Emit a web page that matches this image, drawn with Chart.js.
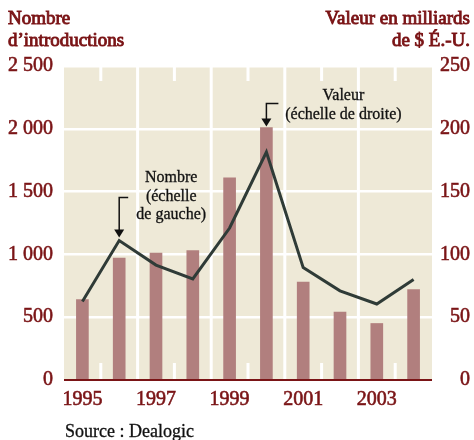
<!DOCTYPE html>
<html>
<head>
<meta charset="utf-8">
<script src="https://cdn.jsdelivr.net/npm/chart.js@4.4.1/dist/chart.umd.min.js"></script>
<style>
  html, body { margin: 0; padding: 0; background: #fff; }
</style>
</head>
<body>
<canvas id="ipo-chart" width="474" height="440"></canvas>
<script>
const years = ['1995', '1996', '1997', '1998', '1999', '2000', '2001', '2002', '2003', '2004'];
const valeur = [64, 97, 101, 103, 161, 201, 78, 54, 45, 72];           // milliards $ (droite)
const nombre = [625, 1110, 915, 805, 1210, 1815, 895, 710, 605, 800];  // introductions (gauche)
const leftTicks = [0, 500, 1000, 1500, 2000, 2500];
const rightTicks = [0, 50, 100, 150, 200, 250];

const darkRed = '#7a1416';
const beige = '#eee9d7';
const serif = '"Liberation Serif", "DejaVu Serif", serif';

function frNumber(v) {
  return String(v).replace(/\B(?=(\d{3})+(?!\d))/g, ' ');
}

// text a little heavier than regular, lighter than bold
function heavyText(ctx, txt, x, y, w) {
  ctx.lineWidth = w;
  ctx.strokeStyle = ctx.fillStyle;
  ctx.strokeText(txt, x, y);
  ctx.fillText(txt, x, y);
}

function arrow(ctx, x, yStart, yTip, hookDx) {
  ctx.save();
  ctx.strokeStyle = '#111';
  ctx.fillStyle = '#111';
  ctx.lineWidth = 1.5;
  ctx.beginPath();
  ctx.moveTo(x + hookDx, yStart);
  ctx.lineTo(x, yStart);
  ctx.lineTo(x, yTip - 6);
  ctx.stroke();
  ctx.beginPath();
  ctx.moveTo(x - 5, yTip - 8);
  ctx.lineTo(x + 5, yTip - 8);
  ctx.lineTo(x, yTip);
  ctx.closePath();
  ctx.fill();
  ctx.restore();
}

const decor = {
  id: 'decor',
  beforeDraw(chart) {
    const { ctx, chartArea: a } = chart;
    ctx.save();
    ctx.fillStyle = beige;
    ctx.fillRect(a.left, a.top, a.right - a.left, a.bottom - a.top);
    ctx.restore();
  },
  beforeDatasetsDraw(chart) {
    const { ctx, chartArea: a, scales } = chart;
    const x = scales.x;
    ctx.save();
    ctx.strokeStyle = '#fff';
    ctx.lineWidth = 3;
    for (let i = 0; i < years.length - 1; i++) {
      const px = (x.getPixelForValue(i) + x.getPixelForValue(i + 1)) / 2;
      ctx.beginPath();
      if (i % 2 === 1) {
        ctx.moveTo(px, a.top);
        ctx.lineTo(px, a.bottom);
      } else {
        ctx.moveTo(px, a.top);
        ctx.lineTo(px, a.top + 15);
        ctx.moveTo(px, a.bottom - 17);
        ctx.lineTo(px, a.bottom);
      }
      ctx.stroke();
    }
    ctx.restore();
  },
  afterDatasetsDraw(chart) {
    const { ctx, chartArea: a, scales } = chart;
    ctx.save();
    ctx.strokeStyle = darkRed;
    ctx.lineWidth = 2;
    ctx.beginPath();
    ctx.moveTo(a.left, a.bottom);
    ctx.lineTo(a.right, a.bottom);
    ctx.stroke();

    // annotations
    ctx.fillStyle = '#111';
    ctx.font = '16px ' + serif;
    ctx.textAlign = 'center';
    ctx.textBaseline = 'middle';

    const nx = scales.x.getPixelForValue(1);
    const ny = scales.yLeft.getPixelForValue(nombre[1]);
    arrow(ctx, nx, ny - 43, ny - 3, 9);
    heavyText(ctx, 'Nombre', nx + 52, ny - 63, 0.3);
    heavyText(ctx, '(échelle', nx + 52, ny - 44, 0.3);
    heavyText(ctx, 'de gauche)', nx + 52, ny - 26, 0.3);

    const vx = scales.x.getPixelForValue(5);
    const vy = scales.yRight.getPixelForValue(valeur[5]);
    arrow(ctx, vx, vy - 24, vy - 1, 12);
    heavyText(ctx, 'Valeur', vx + 77, vy - 32, 0.3);
    heavyText(ctx, '(échelle de droite)', vx + 77, vy - 13, 0.3);
    ctx.restore();
  },
  afterDraw(chart) {
    const { ctx } = chart;
    ctx.save();
    ctx.fillStyle = darkRed;
    ctx.font = '19px ' + serif;
    ctx.textBaseline = 'middle';
    ctx.textAlign = 'left';
    heavyText(ctx, 'Nombre', 8, 19, 0.9);
    heavyText(ctx, 'd\u2019introductions', 8, 41, 0.9);
    ctx.textAlign = 'right';
    heavyText(ctx, 'Valeur en milliards', 470, 19, 0.9);
    heavyText(ctx, 'de $ É.-U.', 470, 41, 0.9);
    ctx.fillStyle = '#111';
    ctx.font = '18px ' + serif;
    ctx.textAlign = 'left';
    heavyText(ctx, 'Source : Dealogic', 65, 432, 0.3);
    ctx.restore();
  }
};

const tickFont = { family: serif, size: 20 };

const ctx = document.getElementById('ipo-chart').getContext('2d');
const ipoChart = new Chart(ctx, {
  type: 'bar',
  data: {
    labels: years,
    datasets: [{
      type: 'line',
      label: 'Nombre',
      data: nombre,
      yAxisID: 'yLeft',
      borderColor: '#2f3b37',
      borderWidth: 3,
      pointRadius: 0,
      tension: 0,
      order: 1
    }, {
      type: 'bar',
      label: 'Valeur',
      data: valeur,
      yAxisID: 'yRight',
      backgroundColor: '#b17f7e',
      barThickness: 12,
      order: 2
    }]
  },
  options: {
    responsive: false,
    animation: false,
    layout: { padding: { top: 66, right: 4, left: 0, bottom: 30 } },
    plugins: {
      legend: { display: false },
      tooltip: { enabled: false }
    },
    scales: {
      x: {
        grid: { display: false, drawTicks: false },
        border: { display: false },
        ticks: {
          autoSkip: false,
          maxRotation: 0,
          padding: 8,
          color: darkRed,
          textStrokeColor: darkRed,
          textStrokeWidth: 0.6,
          font: tickFont,
          callback: function(value, index) {
            return index % 2 === 0 ? years[index] : '';
          }
        },
        afterFit: function(scale) { scale.height = 30; }
      },
      yLeft: {
        position: 'left',
        min: 0,
        max: 2500,
        afterBuildTicks: function(scale) {
          scale.ticks = leftTicks.map(v => ({ value: v }));
        },
        grid: { color: '#fff', lineWidth: 2.5, drawTicks: false },
        border: { display: false },
        ticks: {
          padding: 11,
          color: darkRed,
          textStrokeColor: darkRed,
          textStrokeWidth: 0.6,
          font: tickFont,
          callback: function(value) { return frNumber(value); }
        },
        afterFit: function(scale) { scale.width = 64; }
      },
      yRight: {
        position: 'right',
        min: 0,
        max: 250,
        afterBuildTicks: function(scale) {
          scale.ticks = rightTicks.map(v => ({ value: v }));
        },
        grid: { display: false, drawTicks: false },
        border: { display: false },
        ticks: {
          crossAlign: 'far',
          padding: 0,
          color: darkRed,
          textStrokeColor: darkRed,
          textStrokeWidth: 0.6,
          font: tickFont
        },
        afterFit: function(scale) { scale.width = 38; }
      }
    }
  },
  plugins: [decor]
});
</script>
</body>
</html>
